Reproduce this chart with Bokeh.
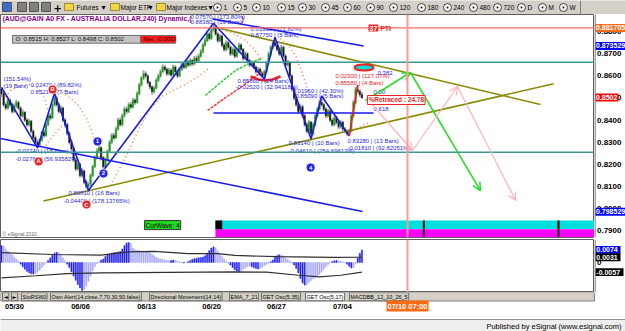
from bokeh.plotting import figure
from bokeh.layouts import column, row
from bokeh.models import (Range1d, Label, Arrow, OpenHead, ColumnDataSource, Span)
from bokeh.core.properties import value
from bokeh.embed import file_html
from bokeh.resources import INLINE

FONT = "Liberation Sans"
W = 625

# ---------------- price data (240-min bars, in pips of 0.0001) ----------------
first_open_pips = 8540
close_pips = [8520,8470,8455,8490,8470,8440,8465,8480,8455,8420,
              8435,8400,8380,8395,8350,8320,8300,8290,8310,8345,
              8330,8380,8420,8410,8470,8500,8470,8440,8455,8400,
              8380,8340,8300,8270,8220,8180,8200,8150,8170,8120,
              8100,8110,8150,8190,8230,8260,8275,8230,8190,8220,
              8260,8300,8330,8320,8360,8400,8380,8420,8450,8440,
              8470,8460,8490,8480,8520,8560,8590,8610,8600,8570,
              8550,8530,8545,8580,8600,8620,8640,8630,8610,8625,
              8605,8640,8620,8600,8630,8650,8640,8665,8650,8670,
              8655,8680,8670,8690,8710,8740,8760,8790,8770,8810,
              8820,8790,8760,8780,8740,8720,8750,8730,8700,8720,
              8690,8710,8740,8720,8680,8700,8670,8650,8660,8640,
              8620,8630,8610,8600,8620,8660,8700,8730,8750,8740,
              8720,8700,8730,8690,8650,8660,8600,8540,8500,8470,
              8440,8460,8420,8380,8350,8390,8340,8380,8420,8450,
              8480,8470,8450,8420,8440,8400,8380,8410,8390,8370,
              8390,8360,8350,8340,8350,8420,8480,8540,8530,8515,
              8502]
high_pips = [8548,8530,8482,8502,8498,8478,8475,8492,8488,8462,
             8448,8440,8410,8405,8400,8358,8330,8312,8318,8352,
             8356,8390,8428,8432,8480,8521,8508,8478,8466,8460,
             8410,8388,8348,8310,8278,8230,8212,8208,8182,8176,
             8130,8120,8158,8198,8240,8270,8290,8282,8238,8232,
             8268,8310,8340,8342,8370,8410,8412,8430,8462,8460,
             8480,8482,8500,8498,8530,8570,8600,8625,8620,8608,
             8578,8558,8555,8590,8610,8630,8652,8650,8638,8636,
             8632,8650,8648,8628,8640,8662,8660,8675,8672,8682,
             8676,8690,8692,8700,8722,8750,8772,8800,8798,8820,
             8838,8828,8798,8790,8786,8750,8760,8758,8738,8730,
             8728,8722,8750,8748,8726,8710,8706,8678,8670,8668,
             8648,8640,8638,8618,8628,8668,8710,8740,8762,8775,
             8748,8728,8740,8736,8698,8672,8666,8608,8548,8508,
             8478,8472,8468,8428,8390,8400,8396,8390,8430,8460,
             8492,8509,8478,8458,8450,8448,8410,8420,8418,8398,
             8400,8396,8368,8358,8360,8430,8490,8550,8558,8538,
             8527]
low_pips = [8505,8460,8445,8448,8458,8430,8432,8455,8446,8410,
            8412,8392,8370,8372,8340,8310,8288,8274,8282,8302,
            8320,8325,8372,8398,8405,8462,8460,8430,8432,8392,
            8368,8330,8290,8258,8210,8168,8172,8140,8140,8110,
            8090,8081,8102,8142,8182,8222,8250,8220,8170,8182,
            8212,8252,8292,8310,8314,8352,8370,8372,8412,8428,
            8432,8450,8452,8470,8475,8512,8552,8582,8590,8560,
            8538,8515,8520,8540,8572,8592,8612,8620,8600,8602,
            8595,8600,8610,8590,8594,8622,8630,8632,8640,8642,
            8645,8648,8660,8662,8682,8702,8732,8752,8760,8762,
            8800,8780,8750,8752,8730,8710,8712,8720,8690,8692,
            8680,8682,8702,8710,8670,8672,8660,8640,8642,8630,
            8610,8612,8600,8590,8586,8612,8652,8692,8722,8730,
            8710,8690,8692,8680,8640,8642,8590,8530,8490,8460,
            8430,8432,8410,8370,8340,8342,8314,8332,8372,8412,
            8442,8460,8440,8410,8412,8390,8370,8372,8380,8360,
            8362,8350,8340,8330,8328,8345,8412,8472,8520,8505,
            8498]

# oscillator histogram (units of 0.0001)
osc_hist = [100,95,80,65,55,45,30,20,8,-10,
            -25,-40,-52,-60,-66,-68,-65,-58,-45,-30,
            -15,-3,12,28,42,55,60,58,45,28,
            10,-10,-30,-55,-80,-105,-130,-150,-165,-160,
            -140,-110,-80,-50,-25,-8,5,15,20,35,
            45,50,55,58,60,62,65,80,100,115,
            118,110,85,75,72,70,68,66,65,62,
            58,50,40,30,25,20,18,15,12,10,
            12,15,12,8,5,2,-3,0,5,12,
            18,22,25,28,30,32,40,55,70,85,
            92,88,70,50,35,20,8,-5,-15,-30,
            -42,-50,-53,-48,-40,-32,-25,-20,-25,-30,
            -35,-38,-35,-28,-20,-12,-5,5,15,30,
            40,45,44,38,28,18,8,-5,-15,-35,
            -60,-95,-120,-133,-130,-118,-105,-95,-88,-80,
            -70,-55,-40,-25,-12,-3,5,10,12,10,
            8,4,-2,-10,-22,-32,-30,-10,25,55,
            74]
band_up_idx = [0, 24, 47, 60, 72, 88, 102, 110, 130, 156, 170]
band_up_val = [58, 47, 43, 62, 66, 52, 52, 42, 34, 30, 31]
band_lo_idx = [0, 16, 31, 47, 110, 125, 140, 150, 160, 170]
band_lo_val = [-90, -78, -65, -61, -55, -57, -75, -85, -75, -57]

# axis ticks / labels
price_ticks = [0.79, 0.80, 0.81, 0.82, 0.83, 0.84, 0.85, 0.86, 0.87, 0.88]
date_tick_idx = [6.1, 37.3, 68.4, 99.1, 129.7, 160.8]
date_labels = ["05/30", "06/06", "06/13", "06/20", "06/27", "07/04"]
future_idx = 191.5
future_label = "07/10 07:00"
tag_values = [0.881705, 0.873529, 0.8502, 0.798529]
tag_texts = ["0.881705", "0.873529", "0.8502", "0.798529"]
tag_colors = ["#ff6a13", "#0000ff", "#ff0000", "#0000ff"]
osc_ticks = [0]
osc_tag_values = [0.0074, 0.0031, -0.0057]
osc_tag_texts = ["0.0074", "0.0031", "-0.0057"]
osc_tag_colors = ["#0000ff", "#000000", "#000000"]

# studies / drawings (bar index, price)
zig_idx = [0, 17, 25, 41, 100, 124, 129, 146, 151, 164]
zig_price = [0.8548, 0.8274, 0.8521, 0.8081, 0.8838, 0.8586, 0.8775, 0.8314, 0.8509, 0.8328]
last_leg_idx = [164, 168]
last_leg_price = [0.8328, 0.8558]
blue_lo_idx = [-0.5, 170.3]
blue_lo_price = [0.83167, 0.79864]
blue_hi_idx = [99.5, 170.8]
blue_hi_price = [0.8858, 0.87353]
olive_up_idx = [19.8, 260.4]
olive_up_price = [0.80336, 0.85643]
olive_dn_idx = [103.3, 254.2]
olive_dn_price = [0.88145, 0.84706]
fib_idx = [100.0, 175.5]
fib_price = 0.8432
red_level = 0.881705
teal_levels = [0.8662, 0.82548]

arcs = [
    ([0.9, 4.2, 9.0, 13.7, 17.5, 20.3, 22.2],
     [0.84887, 0.85339, 0.85566, 0.85611, 0.85430, 0.84977, 0.84344]),
    ([20.8, 24.1, 27.8, 30.7], [0.82851, 0.83258, 0.83665, 0.83891]),
    ([26.9, 31.6, 36.3, 40.1, 42.9, 44.8, 46.7],
     [0.85339, 0.85068, 0.84661, 0.84072, 0.83394, 0.82760, 0.82172]),
    ([51.4, 55.2, 59.0, 62.7, 66.5, 70.3, 75.0, 80.7, 86.8, 92.9, 97.6],
     [0.81041, 0.81719, 0.82398, 0.83167, 0.83891, 0.84525, 0.85023, 0.85339, 0.85611, 0.85973, 0.86335]),
    ([100.9, 105.7, 110.4, 115.1, 118.9, 122.2],
     [0.88281, 0.88054, 0.87873, 0.87602, 0.87240, 0.86787]),
    ([131.6, 135.4, 138.7, 141.0, 143.4, 145.8],
     [0.87692, 0.87376, 0.86923, 0.86335, 0.85701, 0.84977]),
    ([162.7, 165.6, 168.4, 171.2, 174.1],
     [0.83303, 0.83529, 0.83665, 0.83801, 0.83891]),
]
green_ma_idx = [96.2, 103.3, 110.4, 117.5, 123.1]
green_ma_price = [0.85113, 0.85701, 0.86244, 0.86606, 0.86787]
red_ma_idx = [97.2, 105.7, 112.7, 118.4, 123.1]
red_ma_price = [0.84434, 0.85023, 0.85475, 0.85882, 0.86199]
smile_idx = [117.5, 121.2, 124.5, 127.8, 131.6]
smile_price = [0.85973, 0.85837, 0.85792, 0.85837, 0.85973]

green_arrows = [(171.7, 0.84887, 192.9, 0.86154), (192.9, 0.86154, 225.9, 0.80814)]
pink_arrows = [(173.1, 0.84887, 193.9, 0.82624), (193.9, 0.82624, 215.1, 0.85520),
               (215.1, 0.85520, 242.5, 0.80362)]

wave_idx = [17.5, 24.1, 40.1, 45.3, 48.1, 145.8]
wave_price = [0.82127, 0.85385, 0.80181, 0.83032, 0.81584, 0.81855]
wave_text = ["A", "B", "C", "1", "2", "4"]
wave_color = ["#ee2222", "#ee2222", "#ee2222", "#2222ee", "#2222ee", "#2222ee"]

note_idx = [0.9, 0.9, 13.7, 13.7, 6.6, 6.6, 31.6, 29.2, 89.2, 89.2, 117.5, 117.5,
            111.3, 110.4, 137.3, 138.7, 135.4, 135.4, 163.2, 163.2, 157.5, 157.5,
            177.4, 175.5, 175.5]
note_price = [0.85837, 0.85534, 0.85566, 0.85249, 0.82593, 0.82249, 0.80692, 0.80330,
              0.88680, 0.88440, 0.88100, 0.87860, 0.85747, 0.85475, 0.85339, 0.85113,
              0.82986, 0.82624, 0.83032, 0.82715, 0.85973, 0.85701, 0.86109, 0.85294, 0.84480]
note_text = ["(151.54%)", "(19 Bars)", "0.02470 | (89.82%)", "0.85210 | (7 Bars)",
             "-0.02740 | (18 Bars)", "-0.02760 | (56.93582%)", "0.80810 | (16 Bars)",
             "-0.04400 | (178.13765%)", "0.07570 | (173.80%)", "0.88380 | (59 Bars)",
             "0.01910 | (71.82%)", "0.87750 | (5 Bars)", "0.85860 | (24 Bars)",
             "-0.02520 | (32.94118%)", "0.01950 | (42.30%)", "0.85090 | (5 Bars)",
             "0.83140 | (10 Bars)", "-0.04610 | (254.69613%)", "0.83280 | (13 Bars)",
             "-0.01810 | (92.82051%)", "0.02300 | (127.07%)", "0.85580 | (4 Bars)",
             "0.382", "0.50", "0.618"]
note_color = ["#2b2bdd"] * 20 + ["#ee2222", "#ee2222"] + ["#2b2bdd"] * 3

# ---------------- derived candle fields ----------------
closes = [c / 10000 for c in close_pips]
highs = [h / 10000 for h in high_pips]
lows = [l / 10000 for l in low_pips]
opens = [first_open_pips / 10000] + closes[:-1]
idx = list(range(len(closes)))
up = [c >= o for o, c in zip(opens, closes)]
candles = ColumnDataSource(dict(
    x=idx, o=opens, h=highs, l=lows, c=closes,
    top=[max(o, c) for o, c in zip(opens, closes)],
    bot=[min(o, c) - 0.00008 for o, c in zip(opens, closes)],
    col=["#00a800" if u else "#111111" for u in up]))

PLOT_W = 594
SIDE_W = W - PLOT_W
X0, X1 = -0.47, 279.7
PX_PER_BAR = PLOT_W / (X1 - X0)
xr = Range1d(X0, X1)


def clean(fig):
    fig.grid.visible = False
    fig.toolbar.logo = None


def bare(width, height, xrange, yrange, **kw):
    opts = dict(width=width, height=height, x_range=xrange, y_range=yrange,
                output_backend="svg", toolbar_location=None,
                x_axis_location=None, y_axis_location=None, min_border=0)
    opts.update(kw)
    fig = figure(**opts)
    clean(fig)
    return fig


# ---------------- toolbar strip ----------------
t = bare(W, 14, Range1d(0, W), Range1d(14, 0))
t.background_fill_color = "#d4d0c8"
t.border_fill_color = "#d4d0c8"
t.outline_line_color = None
icon_x = [2, 17, 29, 41]
icon_col = ["#3b6fc9", "#808080", "#808080", "#808080"]
t.quad(left=icon_x, right=[v + 9 for v in icon_x], top=[2] * 4, bottom=[11] * 4,
       fill_color=icon_col, line_color="#404040", line_width=0.8)
t.text(x=[53], y=[7], text=["+"], text_font=value("DejaVu Sans"), text_font_size="10px",
       text_font_style="bold", text_baseline="middle", text_color="#000")
fold_x = [64, 110, 156]
t.quad(left=fold_x, right=[v + 9 for v in fold_x], top=[3] * 3, bottom=[10] * 3,
       fill_color="#f2d447", line_color="#8a7a20", line_width=0.8)
tb_text = ["Futures", "Major ETF", "Major Indexes"]
tb_x = [76, 120, 166]
t.text(x=tb_x, y=[7] * 3, text=tb_text, text_font=value(FONT), text_font_size="6.5px",
       text_baseline="middle", text_color="#000")
t.text(x=[101, 148, 208], y=[7] * 3, text=["▾"] * 3, text_font=value("DejaVu Sans"),
       text_font_size="8px", text_baseline="middle", text_color="#000")
clock_x = [217, 237, 256, 281, 302, 325, 347, 370, 393, 421, 447, 473, 497, 521, 542, 563]
clock_lbl = ["1", "5", "10", "15", "30", "45", "60", "90", "120", "180", "240", "480",
             "720", "D", "M", "W"]
t.scatter(x=clock_x, y=[7] * len(clock_x), marker="circle_dot", size=8,
          fill_color="#f4f4f4", line_color="#202020", line_width=0.8)
t.text(x=[v + 6 for v in clock_x], y=[7] * len(clock_x), text=clock_lbl,
       text_font=value(FONT), text_font_size="6.5px", text_baseline="middle", text_color="#000")
t.segment(x0=[580], y0=[0], x1=[580], y1=[14], line_color="#808080")

# ---------------- main price panel ----------------
p = bare(PLOT_W, 224, xr, Range1d(0.78688, 0.88778), min_border_bottom=1)
p.outline_line_color = "#606060"

p.add_layout(Span(location=red_level, dimension="width", line_color="#ff6a6a", line_width=1.2))
for lv in teal_levels:
    p.add_layout(Span(location=lv, dimension="width", line_color="#3c9696", line_width=1.5))

for ax_i, ax_p in arcs:
    p.line(ax_i, ax_p, line_color="#ff7a33", line_width=1.5, line_dash="1 3")

p.segment(x0="x", y0="l", x1="x", y1="h", source=candles, line_color="#a8a8a8", line_width=2)
p.vbar(x="x", top="top", bottom="bot", width=0.5, source=candles,
       fill_color="col", line_color="col", line_width=0.6)

p.line(green_ma_idx, green_ma_price, line_color="#33cc33", line_width=1.5, line_dash="3 1")
p.line(red_ma_idx, red_ma_price, line_color="#ff3333", line_width=1.5, line_dash="3 1")
p.line(smile_idx, smile_price, line_color="#ee2222", line_width=2.5)

p.line(olive_up_idx, olive_up_price, line_color="#8a8a00", line_width=1.6)
p.line(olive_dn_idx, olive_dn_price, line_color="#8a8a00", line_width=1.6)
p.line(blue_lo_idx, blue_lo_price, line_color="#1a1aee", line_width=1.6)
p.line(blue_hi_idx, blue_hi_price, line_color="#1a1aee", line_width=1.6)
p.line(fib_idx, [fib_price, fib_price], line_color="#1a1aee", line_width=1.6)
p.line(zig_idx, zig_price, line_color="#1a1aee", line_width=1.6)
p.line(last_leg_idx, last_leg_price, line_color="#ee2222", line_width=1.6)

p.ellipse(x=[171.0], y=[0.8638], width=9, height=0.0027, fill_color="#00dede",
          line_color="#ee2222", line_width=2)

for xs, ys, xe, ye in green_arrows:
    p.add_layout(Arrow(end=OpenHead(size=8, line_color="#22dd22", line_width=1.5),
                       x_start=xs, y_start=ys, x_end=xe, y_end=ye,
                       line_color="#22dd22", line_width=1.5))
for xs, ys, xe, ye in pink_arrows:
    p.add_layout(Arrow(end=OpenHead(size=8, line_color="#ffb0b8", line_width=1.2),
                       x_start=xs, y_start=ys, x_end=xe, y_end=ye,
                       line_color="#ffb0b8", line_width=1.2))

p.text(x=note_idx, y=note_price, text=note_text, text_color=note_color,
       text_font=value(FONT), text_font_size="6px", text_baseline="middle")

p.scatter(x=wave_idx, y=wave_price, size=9, marker="circle", fill_color=wave_color,
          line_color="white", line_width=0.8)
p.text(x=wave_idx, y=wave_price, text=wave_text, text_color="white", text_align="center",
       text_baseline="middle", text_font=value(FONT), text_font_size="6px",
       text_font_style="bold")

# wave status bars at the bottom
p.quad(left=[100.9], right=[X1 + 5], bottom=[0.79063], top=[0.79457],
       fill_color="#00dede", line_color=None)
p.quad(left=[100.9], right=[X1 + 5], bottom=[0.78700], top=[0.79063],
       fill_color="#ff00ff", line_color=None)
p.quad(left=[100.9], right=[104.1], bottom=[0.79063], top=[0.79457],
       fill_color="#000000", line_color=None)
p.segment(x0=[199.2, 262.7], y0=[0.78720] * 2, x1=[199.2, 262.7], y1=[0.79457] * 2,
          line_color="#000000", line_width=2)

p.add_layout(Span(location=future_idx, dimension="height", line_color="#ff9a9a", line_width=2))

# title / info boxes
p.add_layout(Label(x=0.5, y=0.88597, text="(AUD@GAIN A0 FX - AUSTRALIA DOLLAR,240) Dynamic,(",
                   text_color="#8b008b", text_font=FONT, text_font_size="6.9px",
                   text_font_style="bold", text_baseline="middle"))
p.add_layout(Label(x=113.2, y=0.88597, text=")", text_color="#8b008b", text_font=FONT,
                   text_font_size="6.9px", text_font_style="bold", text_baseline="middle"))
p.quad(left=[5.2], right=[65.6], bottom=[0.87480], top=[0.87828],
       fill_color="#c4c4c4", line_color="#707070", line_width=1)
p.quad(left=[65.6], right=[82.1], bottom=[0.87480], top=[0.87828],
       fill_color="#ff1a1a", line_color="#707070", line_width=1)
p.text(x=[6.6], y=[0.87656], text=["O: 0.8515    H: 0.8527    L: 0.8498    C: 0.8502"],
       text_color="#111", text_font=value(FONT), text_font_size="6px", text_baseline="middle")
p.text(x=[67.0], y=[0.87656], text=["Net: -0.0013"], text_color="#300000",
       text_font=value(FONT), text_font_size="6px", text_baseline="middle")
p.add_layout(Label(x=172.6, y=0.84910, text="%Retraced : 24.78", text_color="#ee2222",
                   text_font=FONT, text_font_size="6.5px", text_font_style="bold",
                   text_baseline="middle", background_fill_color="white",
                   border_line_color="#ee2222", padding=1))
p.add_layout(Label(x=173.1, y=0.88167, text="37", text_color="white", text_font=FONT,
                   text_font_size="7px", text_font_style="bold", text_baseline="middle",
                   background_fill_color="#ee2222", padding=1))
p.add_layout(Label(x=178.6, y=0.88167, text="PTI", text_color="#ee2222", text_font=FONT,
                   text_font_size="7px", text_font_style="bold", text_baseline="middle"))
p.add_layout(Label(x=67.5, y=0.79250, text="CurWave: 4", text_color="#000", text_font=FONT,
                   text_font_size="6.5px", text_baseline="middle",
                   background_fill_color="#22dd22", border_line_color="#333333", padding=1))
p.add_layout(Label(x=0.5, y=0.78860, text="© eSignal 2010", text_color="#666", text_font=FONT,
                   text_font_size="5px", text_baseline="middle"))

# price scale column (right)
ps = bare(SIDE_W, 224, Range1d(0, SIDE_W), p.y_range, min_border_bottom=1)
ps.outline_line_color = None
ps.add_layout(Span(location=0.5, dimension="height", line_color="#505050", line_width=1))
ps.text(x=[2.5] * len(price_ticks), y=price_ticks, text=[f"{v:.4f}" for v in price_ticks],
        text_font=value(FONT), text_font_size="8px", text_font_style="bold",
        text_color="#000", text_baseline="middle")
ps.quad(left=[1] * len(tag_values),
        right=[30.5 if len(s) > 6 else 24 for s in tag_texts],
        bottom=[v - 0.0018 for v in tag_values], top=[v + 0.0018 for v in tag_values],
        fill_color=tag_colors, line_color=None)
ps.text(x=[1.5] * len(tag_values), y=tag_values, text=tag_texts, text_color="white",
        text_font=value(FONT), text_font_size="7px", text_font_style="bold",
        text_baseline="middle")

# ---------------- oscillator panel ----------------
q = bare(PLOT_W, 54, xr, Range1d(-0.01765, 0.01353), min_border_top=1)
q.outline_line_color = "#606060"
hist = [h / 10000 for h in osc_hist]
hist_col = ["#2323f0" if (i == 0 or abs(hist[i]) >= abs(hist[i - 1])) else "#a9a9ff"
            for i in range(len(hist))]
q.vbar(x=idx, top=hist, bottom=0, width=0.55, fill_color=hist_col, line_color=hist_col,
       line_width=0.5)
q.line(band_up_idx, [v / 10000 for v in band_up_val], line_color="#303030", line_width=1.2)
q.line(band_lo_idx, [v / 10000 for v in band_lo_val], line_color="#303030", line_width=1.2)
q.add_layout(Span(location=future_idx, dimension="height", line_color="#ff9a9a", line_width=2))

qs = bare(SIDE_W, 54, Range1d(0, SIDE_W), q.y_range, min_border_top=1)
qs.outline_line_color = None
qs.add_layout(Span(location=0.5, dimension="height", line_color="#505050", line_width=1))
qs.text(x=[2.5], y=osc_ticks, text=["0"], text_font=value(FONT), text_font_size="8px",
        text_font_style="bold", text_color="#000", text_baseline="middle")
qs.quad(left=[1] * 3, right=[26, 26, 29], bottom=[v - 0.0023 for v in osc_tag_values],
        top=[v + 0.0023 for v in osc_tag_values], fill_color=osc_tag_colors, line_color=None)
qs.text(x=[1.8] * 3, y=osc_tag_values, text=osc_tag_texts, text_color="white",
        text_font=value(FONT), text_font_size="7px", text_font_style="bold",
        text_baseline="middle")

# ---------------- tab bar + date scale ----------------
d = bare(W, 24, Range1d(X0, X0 + W / PX_PER_BAR), Range1d(24, 0))
d.outline_line_color = None
d.quad(left=[X0], right=[X1], top=[0], bottom=[8.5], fill_color="#d4d0c8",
       line_color="#808080", line_width=1)
tab_px = [2, 11, 21, 50, 149, 229, 261, 305, 349]
tab_text = ["◄", "►", "StoRSI60", "Own Alert(14,close,7,70,30,50,false)",
            "Directional Movement(14,14)", "EMA_7_21", "GET Osc(5,35)", "GET Osc(5,17)",
            "MACDBB_12_10_26_5"]
for i, (xp, tx) in enumerate(zip(tab_px, tab_text)):
    d.add_layout(Label(x=xp, y=4.2, x_units="screen", text=tx, text_color="#000",
                       text_font=("DejaVu Sans" if i < 2 else FONT), text_font_size="5.5px",
                       text_baseline="middle",
                       background_fill_color=("white" if tx == "GET Osc(5,17)" else "#d4d0c8"),
                       border_line_color="#707070", padding=1))
d.text(x=date_tick_idx, y=[13.5] * len(date_tick_idx), text=date_labels, text_align="center",
       text_baseline="middle", text_font=value(FONT), text_font_size="7.5px",
       text_font_style="bold", text_color="#000")
d.add_layout(Label(x=future_idx, y=13.5, text=future_label, text_color="white",
                   text_font=FONT, text_font_size="7.5px", text_font_style="bold",
                   text_align="center", text_baseline="middle",
                   background_fill_color="#ff6a13", padding=1))

# ---------------- footer ----------------
f = bare(W, 15, Range1d(0, W), Range1d(15, 0))
f.background_fill_color = "#efefef"
f.border_fill_color = "#efefef"
f.outline_line_color = None
f.quad(left=[0], right=[W], top=[0], bottom=[3], fill_color="white", line_color=None)
f.segment(x0=[0], y0=[3], x1=[W], y1=[3], line_color="#909090", line_width=1)
f.text(x=[621], y=[9.5], text=["Published by eSignal (www.esignal.com)"], text_align="right",
       text_baseline="middle", text_font=value(FONT), text_font_size="7.5px", text_color="#000")

layout = column(t, row(p, ps, spacing=0), row(q, qs, spacing=0), d, f, spacing=0)
open("out.html", "w").write(file_html(layout, INLINE))
